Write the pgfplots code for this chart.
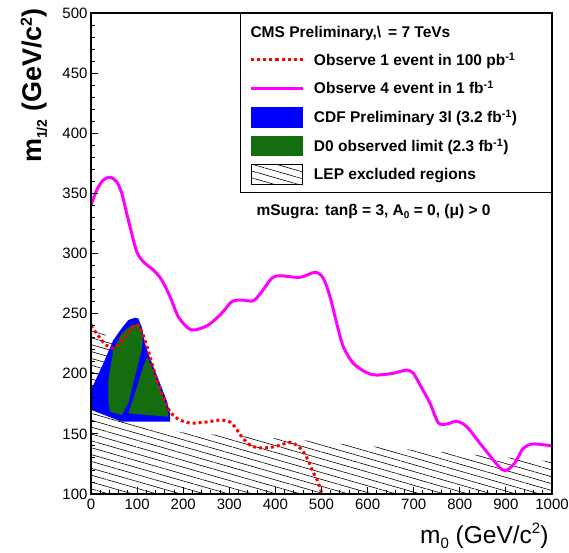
\documentclass[border=0pt]{standalone}
\usepackage{fontspec}
\setmainfont{Liberation Sans}
\usepackage{pgfplots}
\pgfplotsset{compat=1.18}
\usetikzlibrary{patterns.meta}
\definecolor{dzgreen}{RGB}{20,110,15}
\definecolor{cdfblue}{RGB}{0,0,255}
\definecolor{rootmag}{RGB}{255,0,255}
\definecolor{rootred}{RGB}{255,0,0}
\tikzset{lephatch/.style={pattern={Lines[angle=-16,distance=6.6pt,line width=0.6pt]}, pattern color=black}}
\begin{document}
\begin{tikzpicture}
\begin{axis}[
  scale only axis, width=461pt, height=481pt,
  xmin=0, xmax=1000, ymin=100, ymax=500,
  xtick={0,100,...,1000}, ytick={100,150,...,500},
  minor x tick num=4, minor y tick num=4,
  tick align=inside, tick pos=left,
  major tick length=7pt, minor tick length=4pt,
  every tick/.style={black, line width=0.9pt},
  axis line style={line width=1.2pt},
  axis on top,
  /pgf/number format/assume math mode=true,
  /pgf/number format/1000 sep={},
  ticklabel style={font=\fontsize{15}{18}\selectfont},
  xticklabel style={yshift=-1pt},
  xlabel={m\raisebox{-5pt}{\fontsize{15}{15}\selectfont 0} (GeV/c\raisebox{10pt}{\fontsize{15}{15}\selectfont 2})},
  ylabel={m\raisebox{-5pt}{\fontsize{14}{14}\selectfont 1/2} (GeV/c\raisebox{10pt}{\fontsize{16}{16}\selectfont 2})},
  every axis x label/.style={at={(axis description cs:1,-0.1019)}, anchor=base east, font=\fontsize{24.5}{28}\selectfont},
  every axis y label/.style={at={(axis description cs:-0.1063,1.0166)}, anchor=base east, rotate=90, font=\fontsize{27}{32}\selectfont\bfseries},
  legend style={draw=none, fill=none, at={(axis description cs:0.3449,0.9231)}, anchor=north west,
    inner sep=0pt, outer sep=0pt, row sep=8.3pt, column sep=10pt,
    font=\fontsize{15.5}{18}\selectfont\bfseries, nodes={inner sep=0pt, outer sep=0pt}},
  legend cell align=left,
]
\addlegendimage{legend image code/.code={\path[draw=none,fill=none] (0pt,-10pt) rectangle (51pt,10pt); \draw[rootred, line width=3pt, dash pattern=on 3pt off 3pt] (0pt,0pt) -- (51pt,0pt);}}
\addlegendentry{Observe 1 event in 100 pb\textsuperscript{-1}}
\addlegendimage{legend image code/.code={\path[draw=none,fill=none] (0pt,-10pt) rectangle (51pt,10pt); \draw[rootmag, line width=3pt] (0pt,0pt) -- (51pt,0pt);}}
\addlegendentry{Observe 4 event in 1 fb\textsuperscript{-1}}
\addlegendimage{legend image code/.code={\fill[cdfblue, draw=none] (0pt,-10.5pt) rectangle (51pt,10.5pt);}}
\addlegendentry{CDF Preliminary 3l (3.2 fb\textsuperscript{-1})}
\addlegendimage{legend image code/.code={\fill[dzgreen, draw=none] (0pt,-10pt) rectangle (51pt,10pt);}}
\addlegendentry{D0 observed limit (2.3 fb\textsuperscript{-1})}
\addlegendimage{legend image code/.code={\draw[black, line width=0.8pt, lephatch] (0pt,-10pt) rectangle (51pt,10pt);}}
\addlegendentry{LEP excluded regions}

% LEP excluded region (hatched)
\addplot[forget plot, draw=none, lephatch] coordinates {
(0,100)(0,242)(45,228)(100,158)(200,151)(450,145)(530,142)(785,134)(913,130)(1000,127)(1000,100)} -- cycle;

% CDF preliminary 3l
\addplot[forget plot, draw=none, fill=cdfblue] coordinates {
(0,186.5)(26.7,208.7)(48.4,228)(66.6,237.8)(80.9,244.7)(95.4,246.5)(102.6,246)(110,239)(117.1,225.6)(124.3,217)(135.1,205.9)(149.7,192)(164,178)(171.4,167.4)(171.4,160.1)(66.6,160.1)(0,170)} -- cycle;

% D0 observed limit (two pieces)
\addplot[forget plot, draw=none, fill=dzgreen] coordinates {
(37.5,178)(37.5,194.8)(48.4,219.8)(66.6,233.6)(80,238)(88.3,240.5)(102.6,241.4)(110,236)(112,229)(110,219.8)(80.9,175.4)(66.6,165.7)(41.2,168.4)} -- cycle;
\addplot[forget plot, draw=none, fill=dzgreen] coordinates {
(122,214.2)(142.5,194.8)(156.8,180.9)(167.7,167.1)(167.7,164.3)(120.8,165.7)(80.9,167.1)(88.3,175.4)(113.4,205.9)} -- cycle;

% Observe 1 event in 100 pb^-1
\addplot[forget plot, rootred, line width=3pt, dash pattern=on 3pt off 3pt, smooth] coordinates {
(0,240)(19.5,229.7)(32.5,224)(47.7,221.4)(62.9,225.6)(75.9,232.2)(91.1,238.9)(102,240.5)(108.5,236.4)(117.1,228)(123.6,219.8)(134.5,205.6)(145.3,192.3)(156.2,180.7)(167,171.5)(171.4,168.2)(188.7,162.4)(214.8,159)(251.6,159.9)(279.8,161.5)(301.5,159.9)(312.4,155.7)(327.5,147.4)(344.9,140.7)(366.6,138.3)(394.8,139.1)(425.2,142.4)(438.2,142.4)(457.7,136.6)(470.7,128.3)(481.6,118.3)(492.4,110)(501,100)};

% Observe 4 event in 1 fb^-1
\addplot[forget plot, rootmag, line width=3pt, smooth] coordinates {
(0,340)(12.4,352.8)(26.7,361.1)(41.2,363.4)(55.7,359.7)(66.6,350.1)(77.4,333.4)(88.3,316.8)(99.1,301.5)(113.4,293.2)(135.1,286.3)(153.4,278.0)(171.4,264.1)(189.4,247.4)(211.1,237.8)(225.6,236.4)(254.4,240.5)(283.5,250.3)(305.2,259.9)(326.9,261.3)(352.1,260.7)(370.3,268.2)(392,279.4)(410,281.5)(453.4,280.2)(485.9,284.4)(504,279.4)(518.4,264.1)(533,242)(547.3,222.5)(569,208.7)(598,200.9)(619.7,198.9)(655.7,200.4)(684.8,203.1)(699.1,200.4)(712,192)(735.4,175.4)(753.4,159.3)(771.6,158.2)(793.3,160.4)(815,156)(843.8,142.1)(872.7,128.3)(890.9,120.5)(903,120)(919.7,126)(937.7,138)(959.4,141.6)(1000,140)};

\draw[line width=0.8pt] (axis description cs:0.3232,0.6279) rectangle (axis description cs:1,1);
\node[anchor=base west, font=\fontsize{15.5}{18}\selectfont\bfseries] at (axis cs:338.4,480) {CMS Preliminary,\textbackslash\hspace{7pt}= 7 TeVs};
\node[anchor=base west, font=\fontsize{15.5}{18}\selectfont\bfseries] at (axis cs:351.4,332) {mSugra: tanβ = 3, A\raisebox{-3pt}{\fontsize{10}{10}\selectfont 0} = 0, (μ) > 0};
\end{axis}
\pgfresetboundingbox
\path (-91pt,-58pt) rectangle (478pt,494pt);
\end{tikzpicture}
\end{document}
